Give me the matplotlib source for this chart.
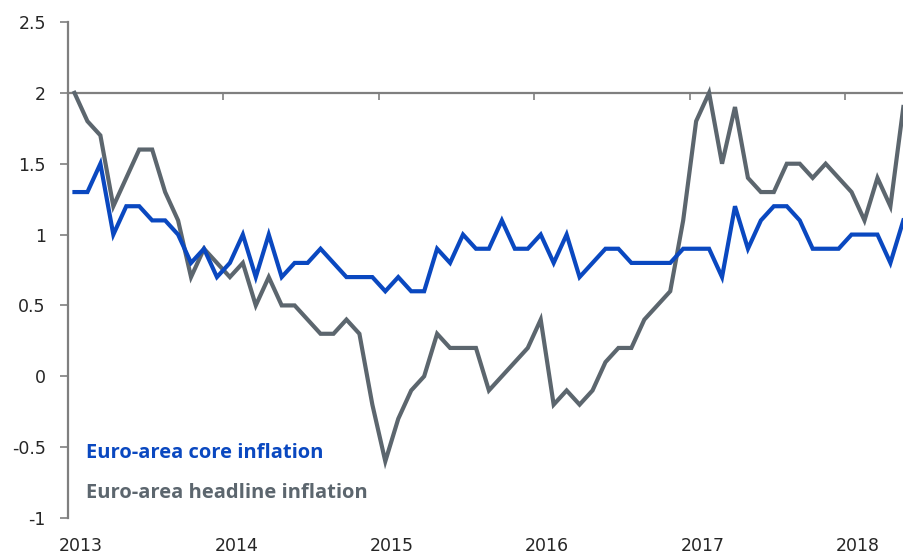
import numpy as np
import matplotlib
matplotlib.use("Agg")
import matplotlib.pyplot as plt

# monthly values, Jan 2013 .. May 2018
core = [1.3, 1.3, 1.5, 1.0, 1.2, 1.2, 1.1, 1.1, 1.0, 0.8, 0.9, 0.7,
        0.8, 1.0, 0.7, 1.0, 0.7, 0.8, 0.8, 0.9, 0.8, 0.7, 0.7, 0.7,
        0.6, 0.7, 0.6, 0.6, 0.9, 0.8, 1.0, 0.9, 0.9, 1.1, 0.9, 0.9,
        1.0, 0.8, 1.0, 0.7, 0.8, 0.9, 0.9, 0.8, 0.8, 0.8, 0.8, 0.9,
        0.9, 0.9, 0.7, 1.2, 0.9, 1.1, 1.2, 1.2, 1.1, 0.9, 0.9, 0.9,
        1.0, 1.0, 1.0, 0.8, 1.1]
headline = [2.0, 1.8, 1.7, 1.2, 1.4, 1.6, 1.6, 1.3, 1.1, 0.7, 0.9, 0.8,
            0.7, 0.8, 0.5, 0.7, 0.5, 0.5, 0.4, 0.3, 0.3, 0.4, 0.3, -0.2,
            -0.6, -0.3, -0.1, 0.0, 0.3, 0.2, 0.2, 0.2, -0.1, 0.0, 0.1, 0.2,
            0.4, -0.2, -0.1, -0.2, -0.1, 0.1, 0.2, 0.2, 0.4, 0.5, 0.6, 1.1,
            1.8, 2.0, 1.5, 1.9, 1.4, 1.3, 1.3, 1.5, 1.5, 1.4, 1.5, 1.4,
            1.3, 1.1, 1.4, 1.2, 1.9]
years = [2013, 2014, 2015, 2016, 2017, 2018]
yticks = [-1, -0.5, 0, 0.5, 1, 1.5, 2, 2.5]

blue = "#0a48c0"
grey = "#5c666e"
axis_col = "#7f7f7f"
txt_col = "#262626"

months = np.arange(len(core)) + 0.5

fig = plt.figure(figsize=(9.04, 5.59), dpi=100)
ax = fig.add_axes([68 / 904, 1 - 518 / 559, (904 - 68) / 904, (518 - 22) / 559])

ax.plot(months, headline, color=grey, lw=3.0, solid_joinstyle="miter", clip_on=False, zorder=3)
ax.plot(months, core, color=blue, lw=3.0, solid_joinstyle="miter", clip_on=False, zorder=4)

ax.set_ylim(-1, 2.5)
ax.set_xlim(0, 64.55)

# horizontal axis sits at y = 2
ax.spines["bottom"].set_visible(False)
ax.spines["right"].set_visible(False)
ax.spines["top"].set_position(("data", 2))
ax.spines["top"].set_color(axis_col)
ax.spines["top"].set_linewidth(1.6)
ax.spines["left"].set_color(axis_col)
ax.spines["left"].set_linewidth(1.6)

ax.set_xticks([12 * (y - years[0]) for y in years])
ax.set_xticks([12 * (y - years[0]) + 1.0 for y in years], minor=True)
ax.set_xticklabels(years, minor=True)
ax.tick_params(axis="x", which="major", top=True, bottom=False, direction="in",
               length=5, width=1.2, color=axis_col, labeltop=False, labelbottom=False)
ax.tick_params(axis="x", which="minor", top=False, bottom=True, length=0,
               labelbottom=True, pad=14, labelsize=12.5, labelcolor=txt_col)

ax.set_yticks(yticks)
ax.set_yticklabels([f"{v:g}" for v in yticks])
ax.tick_params(axis="y", direction="out", length=6, width=1.2, color=axis_col,
               pad=10, labelsize=12.5, labelcolor=txt_col)

ax.text(18 / 836, 1 - (453 - 22) / 496, "Euro-area core inflation", transform=ax.transAxes,
        color=blue, fontsize=14.5, fontweight="bold", family="Open Sans", va="center", ha="left")
ax.text(18 / 836, 1 - (493 - 22) / 496, "Euro-area headline inflation", transform=ax.transAxes,
        color=grey, fontsize=14.5, fontweight="bold", family="Open Sans", va="center", ha="left")

fig.savefig("out.png", dpi=100)
